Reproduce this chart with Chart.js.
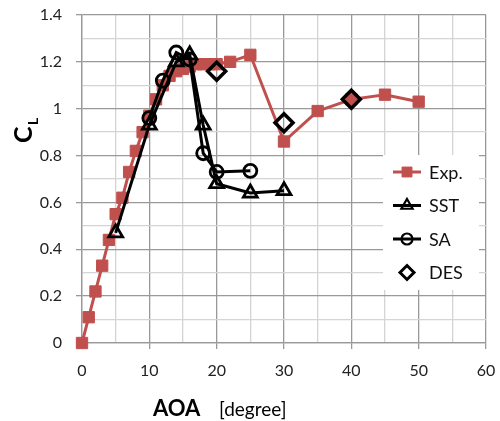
<!DOCTYPE html>
<html>
<head>
<script src="https://cdn.jsdelivr.net/npm/chart.js@4.4.1/dist/chart.umd.min.js"></script>
<style>
  body { margin: 0; background: #fff; }
  #wrap { width: 500px; height: 421px; }
</style>
</head>
<body>
<div id="wrap"><canvas id="myChart" width="500" height="421"></canvas></div>

<script>
// data
var expAoa = [0, 1, 2, 3, 4, 5, 6, 7, 8, 9, 10, 11, 12, 13, 14, 15, 16, 17, 18, 19, 20, 22, 25, 30, 35, 40, 45, 50];
var expCl  = [0, 0.11, 0.22, 0.33, 0.44, 0.55, 0.62, 0.73, 0.82, 0.90, 0.97, 1.04, 1.10, 1.14, 1.16, 1.17, 1.18, 1.19, 1.19, 1.19, 1.19, 1.20, 1.23, 0.86, 0.99, 1.04, 1.06, 1.03];

var sstAoa = [5, 10, 14, 16, 18, 20, 25, 30];
var sstCl  = [0.47, 0.93, 1.20, 1.23, 0.93, 0.68, 0.64, 0.65];

var saAoa = [10, 12, 14, 16, 18, 20, 25];
var saCl  = [0.96, 1.12, 1.24, 1.21, 0.81, 0.73, 0.735];

var desAoa = [20, 30, 40];
var desCl  = [1.16, 0.94, 1.04];

var xTicks = [0, 10, 20, 30, 40, 50, 60];
var yTicks = [0, 0.2, 0.4, 0.6, 0.8, 1, 1.2, 1.4];

function pts(xs, ys) {
  var out = [];
  for (let i = 0; i < xs.length; i++) out.push({x: xs[i], y: ys[i]});
  return out;
}

var RED = "#C0504D";
var FONT = "Lato, 'Open Sans', sans-serif";
var MAJOR = "#999999";
var MINOR = "#d4d4d4";

// legend drawn inside the plot, with a white box, plus the axis titles
var boxLegend = {
  id: "boxLegend",
  afterDraw: function (chart) {
    var c = chart.ctx;
    c.save();
    c.fillStyle = "#fff";
    c.fillRect(383, 155, 96, 135);
    var rows = [
      {label: "Exp.", ds: 0, line: true, r: 7, bw: 1},
      {label: "SST", ds: 1, line: true, r: 6.5, bw: 2.2},
      {label: "SA", ds: 2, line: true, r: 5.5, bw: 2.2},
      {label: "DES", ds: 3, line: false, r: 7, bw: 3}
    ];
    for (let i = 0; i < rows.length; i++) {
      var d = chart.data.datasets[rows[i].ds];
      var y = 172 + i * 33.5;
      if (rows[i].line) {
        c.strokeStyle = d.borderColor;
        c.lineWidth = d.borderWidth;
        c.beginPath(); c.moveTo(393, y); c.lineTo(421, y); c.stroke();
      }
      c.fillStyle = d.pointBackgroundColor;
      c.strokeStyle = d.pointBorderColor;
      c.lineWidth = rows[i].bw;
      Chart.helpers.drawPoint(c, {pointStyle: d.pointStyle, radius: rows[i].r, rotation: 0, borderWidth: rows[i].bw}, 407, y);
      c.fillStyle = "#111";
      c.font = "18px " + FONT;
      c.textBaseline = "middle";
      c.textAlign = "left";
      c.fillText(rows[i].label, 429, y + 1);
    }

    // y title C with subscript L
    c.translate(32, 126);
    c.rotate(-Math.PI / 2);
    c.fillStyle = "#000";
    c.textBaseline = "alphabetic";
    c.font = "bold 25px " + FONT;
    c.textAlign = "left";
    c.fillText("C", -17, 0);
    c.font = "bold 14px " + FONT;
    c.fillText("L", 1, 6);
    c.restore();

    // x title
    c.save();
    c.fillStyle = "#000";
    c.textBaseline = "alphabetic";
    c.font = "bold 22px " + FONT;
    c.fillText("AOA", 153, 416);
    c.font = "19px " + FONT;
    c.fillText("[degree]", 219, 416);
    c.restore();
  }
};

new Chart("myChart", {
  type: "scatter",
  data: {
    datasets: [{
      data: pts(expAoa, expCl),
      showLine: true, clip: false,
      borderColor: RED, borderWidth: 3,
      pointStyle: "rect", pointRadius: 8, pointBorderWidth: 1,
      pointBackgroundColor: RED, pointBorderColor: RED,
      order: 5
    }, {
      data: pts(sstAoa, sstCl),
      showLine: true, clip: false,
      borderColor: "#000", borderWidth: 3,
      pointStyle: "triangle", pointRadius: 8, pointBorderWidth: 2.8,
      pointBackgroundColor: "rgba(0,0,0,0)", pointBorderColor: "#000",
      order: 2
    }, {
      data: pts(saAoa, saCl),
      showLine: true, clip: false,
      borderColor: "#000", borderWidth: 3,
      pointStyle: "circle", pointRadius: 6.5, pointBorderWidth: 2.8,
      pointBackgroundColor: "rgba(0,0,0,0)", pointBorderColor: "#000",
      order: 3
    }, {
      data: pts(desAoa, desCl),
      showLine: false, clip: false,
      borderColor: "#000", borderWidth: 0,
      pointStyle: "rectRot", pointRadius: 9, pointBorderWidth: 3.5,
      pointBackgroundColor: "rgba(0,0,0,0)", pointBorderColor: "#000",
      order: 1
    }]
  },
  options: {
    responsive: false,
    animation: false,
    layout: {padding: {left: 0, right: 0, top: 0, bottom: 0}},
    plugins: {legend: {display: false}, tooltip: {enabled: false}},
    elements: {line: {tension: 0}},
    scales: {
      x: {
        type: "linear", min: 0, max: 60,
        afterFit: function (s) { s.height = 78; s.paddingRight = 14; s.paddingLeft = 0; },
        ticks: {
          stepSize: 5, padding: 12, maxRotation: 0, autoSkip: false,
          color: "#222", font: {family: FONT, size: 16},
          callback: function (v) { return xTicks.indexOf(v) >= 0 ? String(v) : ""; }
        },
        grid: {
          color: function (ctx) { return ctx.tick && ctx.tick.value % 10 === 0 ? MAJOR : MINOR; },
          tickColor: function (ctx) { return ctx.tick && ctx.tick.value % 10 === 0 ? MAJOR : "rgba(0,0,0,0)"; },
          tickLength: 6, lineWidth: 1.3
        },
        border: {color: MAJOR, width: 1.3}
      },
      y: {
        type: "linear", min: 0, max: 1.4,
        afterFit: function (s) { s.width = 82; s.paddingTop = 15; s.paddingBottom = 0; },
        ticks: {
          stepSize: 0.1, padding: 14, autoSkip: false,
          color: "#222", font: {family: FONT, size: 16},
          callback: function (v) {
            var r = Math.round(v * 10) / 10;
            return yTicks.indexOf(r) >= 0 ? String(r) : "";
          }
        },
        grid: {
          color: function (ctx) { return ctx.tick && Math.round(ctx.tick.value * 10) % 2 === 0 ? MAJOR : MINOR; },
          tickColor: function (ctx) { return ctx.tick && Math.round(ctx.tick.value * 10) % 2 === 0 ? MAJOR : "rgba(0,0,0,0)"; },
          tickLength: 6, lineWidth: 1.3
        },
        border: {color: MAJOR, width: 1.3}
      }
    }
  },
  plugins: [boxLegend]
});
</script>
</body>
</html>
